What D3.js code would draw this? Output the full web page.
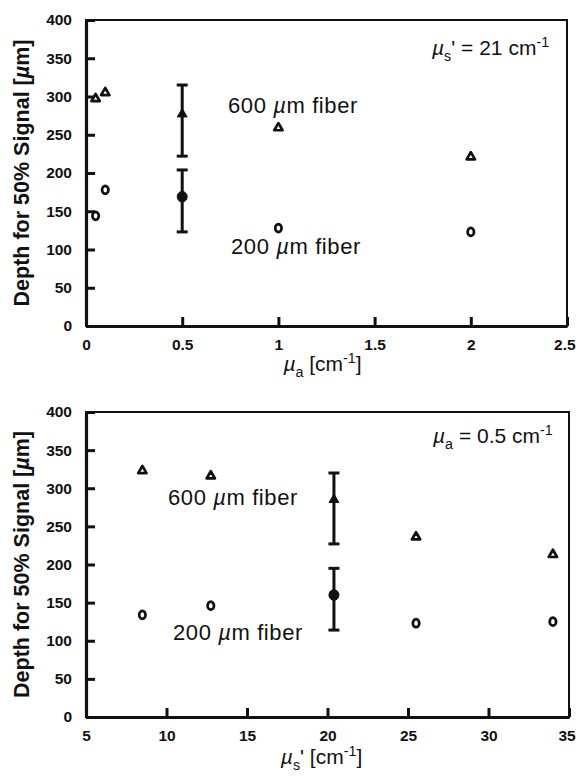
<!DOCTYPE html>
<html>
<head>
<meta charset="utf-8">
<script src="https://cdn.jsdelivr.net/npm/d3@7"></script>
<style>
body { margin: 0; background: #fff; }
svg { display: block; font-family: "Liberation Sans", Arial, Helvetica, sans-serif; }
</style>
</head>
<body>
<svg id="chart" width="577" height="778"></svg>
<script>
// shared y axis
const yTicks = [0, 50, 100, 150, 200, 250, 300, 350, 400];

// panel 1: depth vs absorption (mu_s' = 21 cm-1)
const muA = [0.05, 0.1, 0.5, 1, 2];
const depth600A = [297, 305, 277, 259, 221];
const depth200A = [144, 178, 169, 128, 123];
const err600A = [222, 315];
const err200A = [123, 204];
const xTicksA = [0, 0.5, 1, 1.5, 2, 2.5];

// panel 2: depth vs reduced scattering (mu_a = 0.5 cm-1)
const muS = [8.5, 12.75, 20.4, 25.5, 34];
const depth600S = [323, 316, 285, 236, 213];
const depth200S = [134, 146, 160, 123, 125];
const err600S = [227, 320];
const err200S = [114, 195];
const xTicksS = [5, 10, 15, 20, 25, 30, 35];

const svg = d3.select("#chart");
const W = +svg.attr("width");

// writes rich text: [{t, italic, sub, sup}]
function richText(sel, parts, baseSize) {
    let shift = 0;
    parts.forEach((p) => {
        const target = p.sub ? Math.round(baseSize * 0.3) : p.sup ? -Math.round(baseSize * 0.4) : 0;
        sel.append("tspan")
            .attr("dy", target - shift)
            .attr("font-size", p.sub || p.sup ? baseSize * 0.68 : baseSize)
            .attr("font-style", p.italic ? "italic" : null)
            .text(p.t);
        shift = target;
    });
    return sel;
}

function drawPanel(cfg) {
    const { left, right, top, bottom } = cfg.box;
    const x = d3.scaleLinear().domain(cfg.xDomain).range([left, right]);
    const y = d3.scaleLinear().domain([0, 400]).range([bottom, top]);
    const g = svg.append("g");

    // thin top / right frame
    g.append("rect")
        .attr("x", left).attr("y", top)
        .attr("width", right - left).attr("height", bottom - top)
        .attr("fill", "none").attr("stroke", "#111").attr("stroke-width", 2);

    const xAxis = g.append("g")
        .attr("transform", `translate(0,${bottom})`)
        .call(d3.axisBottom(x).tickValues(cfg.xTicks).tickFormat((d) => d)
            .tickSizeInner(-9).tickSizeOuter(0).tickPadding(13));

    const yAxis = g.append("g")
        .attr("transform", `translate(${left},0)`)
        .call(d3.axisLeft(y).tickValues(yTicks).tickFormat((d) => d)
            .tickSizeInner(-9).tickSizeOuter(0).tickPadding(14));

    [xAxis, yAxis].forEach((a) => {
        a.select(".domain").attr("stroke", "#111").attr("stroke-width", 3.2);
        a.selectAll(".tick line").attr("stroke", "#111").attr("stroke-width", 3);
        a.selectAll(".tick text")
            .attr("fill", "#111")
            .attr("font-size", 15.5)
            .attr("font-weight", "bold")
            .attr("font-family", "Liberation Sans, Arial, sans-serif");
    });

    // keep the last x label inside the page
    xAxis.selectAll(".tick").each(function () {
        const t = d3.select(this).select("text");
        const b = this.getBoundingClientRect();
        if (b.right > W - 1) t.attr("dx", -(b.right - (W - 1)));
    });

    // error bars
    const errs = [
        { lo: cfg.err600[0], hi: cfg.err600[1] },
        { lo: cfg.err200[0], hi: cfg.err200[1] }
    ];
    const ex = x(cfg.xs[cfg.errIndex]);
    errs.forEach((e) => {
        g.append("line")
            .attr("x1", ex).attr("x2", ex)
            .attr("y1", y(e.lo)).attr("y2", y(e.hi))
            .attr("stroke", "#111").attr("stroke-width", 3);
        [e.lo, e.hi].forEach((v) => {
            g.append("line")
                .attr("x1", ex - 5.5).attr("x2", ex + 5.5)
                .attr("y1", y(v)).attr("y2", y(v))
                .attr("stroke", "#111").attr("stroke-width", 3);
        });
    });

    // 600 um fiber: triangles
    g.selectAll(".tri")
        .data(cfg.xs.map((v, i) => ({ x: v, y: cfg.d600[i], filled: i === cfg.errIndex })))
        .enter()
        .append("path")
        .attr("transform", (d) => `translate(${x(d.x)},${y(d.y)})`)
        .attr("d", (d) => d3.symbol(d3.symbolTriangle, d.filled ? 42 : 30)())
        .attr("fill", (d) => (d.filled ? "#111" : "#fff"))
        .attr("stroke", "#111")
        .attr("stroke-width", (d) => (d.filled ? 1 : 2.7))
        .attr("stroke-linejoin", "round");

    // 200 um fiber: circles
    g.selectAll(".circ")
        .data(cfg.xs.map((v, i) => ({ x: v, y: cfg.d200[i], filled: i === cfg.errIndex })))
        .enter()
        .append("ellipse")
        .attr("cx", (d) => x(d.x))
        .attr("cy", (d) => y(d.y))
        .attr("rx", (d) => (d.filled ? 5 : 3.2))
        .attr("ry", (d) => (d.filled ? 5.3 : 4))
        .attr("fill", (d) => (d.filled ? "#111" : "#fff"))
        .attr("stroke", "#111")
        .attr("stroke-width", (d) => (d.filled ? 1 : 2.7));

    // series labels
    cfg.labels.forEach((l) => {
        richText(
            g.append("text").attr("x", l.x).attr("y", l.y).attr("fill", "#111")
                .attr("letter-spacing", 0.6),
            [{ t: l.n + " " }, { t: "\u00b5", italic: true }, { t: "m fiber" }],
            22
        );
    });

    // condition note
    richText(
        g.append("text").attr("x", cfg.note.x).attr("y", cfg.note.y).attr("fill", "#111"),
        cfg.note.parts,
        21
    );

    // x title
    richText(
        g.append("text")
            .attr("x", (left + right) / 2 + cfg.xTitleShift).attr("y", bottom + cfg.xTitleGap)
            .attr("text-anchor", "middle").attr("fill", "#111"),
        cfg.xTitle,
        21
    );

    // y title
    richText(
        g.append("text")
            .attr("transform", "rotate(-90)")
            .attr("x", -(top + bottom) / 2).attr("y", 29)
            .attr("text-anchor", "middle").attr("fill", "#111")
            .attr("font-weight", "bold"),
        [{ t: "Depth for 50% Signal [" }, { t: "\u00b5", italic: true }, { t: "m]" }],
        21.5
    );
}

drawPanel({
    box: { left: 86, right: 567, top: 20, bottom: 326 },
    xDomain: [0, 2.5],
    xTicks: xTicksA,
    xs: muA,
    d600: depth600A,
    d200: depth200A,
    err600: err600A,
    err200: err200A,
    errIndex: 2,
    labels: [{ n: "600", x: 228, y: 113 }, { n: "200", x: 231, y: 254 }],
    note: {
        x: 432, y: 55,
        parts: [
            { t: "\u00b5", italic: true }, { t: "s", sub: true },
            { t: "' = 21 cm" }, { t: "-1", sup: true }
        ]
    },
    xTitle: [{ t: "\u00b5", italic: true }, { t: "a", sub: true }, { t: " [cm" }, { t: "-1", sup: true }, { t: "]" }],
    xTitleShift: -4,
    xTitleGap: 45
});

drawPanel({
    box: { left: 86, right: 569, top: 412, bottom: 717 },
    xDomain: [5, 35],
    xTicks: xTicksS,
    xs: muS,
    d600: depth600S,
    d200: depth200S,
    err600: err600S,
    err200: err200S,
    errIndex: 2,
    labels: [{ n: "600", x: 168, y: 505 }, { n: "200", x: 173, y: 640 }],
    note: {
        x: 433, y: 443,
        parts: [
            { t: "\u00b5", italic: true }, { t: "a", sub: true },
            { t: " = 0.5 cm" }, { t: "-1", sup: true }
        ]
    },
    xTitle: [{ t: "\u00b5", italic: true }, { t: "s", sub: true }, { t: "' [cm" }, { t: "-1", sup: true }, { t: "]" }],
    xTitleShift: -6,
    xTitleGap: 47
});
</script>
</body>
</html>
